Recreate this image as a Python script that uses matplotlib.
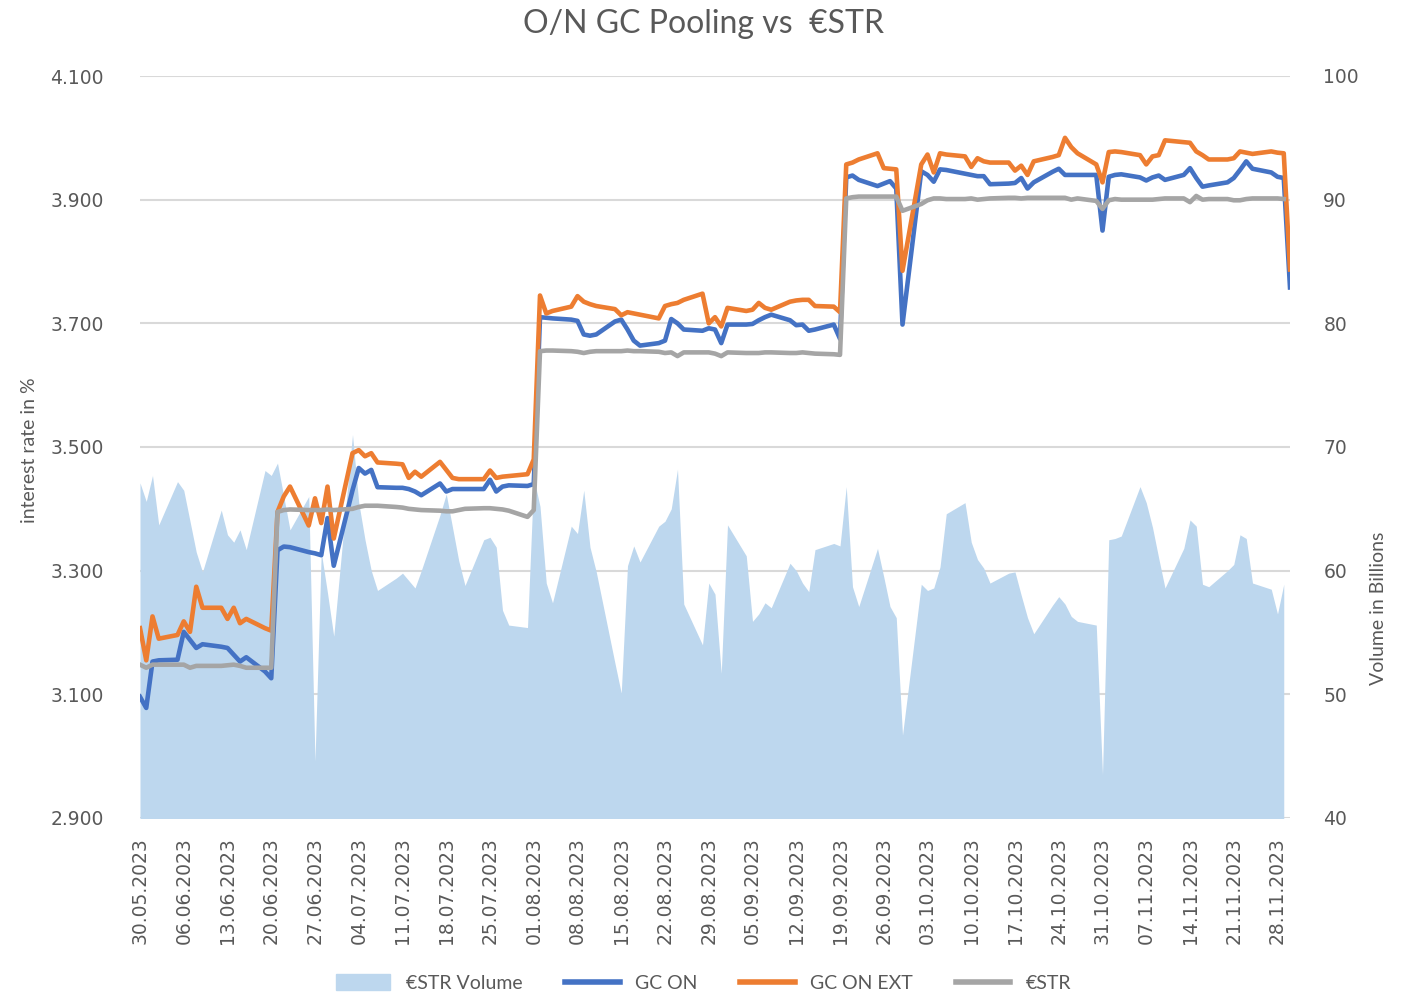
import matplotlib
matplotlib.use("Agg")
import matplotlib.pyplot as plt
import matplotlib.dates as mdates
import matplotlib.ticker as mticker
from matplotlib.patches import Patch
from matplotlib.lines import Line2D
import numpy as np
import pandas as pd

# business days 30.05.2023 - 30.11.2023
dates = pd.bdate_range("2023-05-30", "2023-11-30")

# GC ON (%)
gc_on = [3.096, 3.078,
         3.153, 3.155, 3.156, 3.201, 3.188, 3.175, 3.181, 3.177, 3.175, 3.164, 3.153, 3.160, 3.137, 3.126,
         3.333, 3.339, 3.338, 3.330, 3.328, 3.325, 3.385, 3.308,
         3.430, 3.466, 3.457, 3.463, 3.435, 3.434, 3.434, 3.432, 3.428, 3.422, 3.441, 3.428, 3.432, 3.432,
         3.432, 3.432, 3.447, 3.428, 3.436, 3.438, 3.437,
         3.440, 3.710, 3.709, 3.708, 3.706, 3.704, 3.682, 3.680, 3.682, 3.703, 3.706, 3.690, 3.672, 3.664,
         3.668, 3.672, 3.707, 3.700, 3.690, 3.688, 3.692, 3.690, 3.668,
         3.698, 3.698, 3.699, 3.705, 3.710, 3.714, 3.705, 3.697, 3.698, 3.688, 3.690, 3.698, 3.675,
         3.936, 3.939, 3.932, 3.922, 3.926, 3.930, 3.918, 3.698,
         3.946, 3.940, 3.929, 3.949, 3.948, 3.942, 3.940, 3.938, 3.938, 3.925, 3.926, 3.927, 3.935, 3.918,
         3.928, 3.945, 3.950, 3.940, 3.940, 3.940, 3.940, 3.850,
         3.937, 3.940, 3.941, 3.936, 3.931, 3.936, 3.939, 3.932, 3.940, 3.951, 3.935, 3.921, 3.923, 3.928,
         3.935, 3.948, 3.962, 3.950, 3.944, 3.937, 3.935, 3.758]

# GC ON EXT (%)
gc_on_ext = [3.207, 3.155,
             3.226, 3.190, 3.196, 3.218, 3.201, 3.274, 3.240, 3.240, 3.222, 3.240, 3.215, 3.222, 3.207, 3.203,
             3.395, 3.420, 3.436, 3.373, 3.417, 3.377, 3.436, 3.352,
             3.490, 3.495, 3.485, 3.490, 3.475, 3.473, 3.472, 3.450, 3.460, 3.452, 3.476, 3.463, 3.450, 3.448,
             3.448, 3.448, 3.462, 3.450, 3.452, 3.453, 3.456,
             3.480, 3.745, 3.716, 3.720, 3.727, 3.744, 3.735, 3.731, 3.728, 3.723, 3.713, 3.718, 3.716, 3.714,
             3.708, 3.728, 3.731, 3.733, 3.738, 3.748, 3.700, 3.710, 3.695,
             3.725, 3.720, 3.722, 3.733, 3.725, 3.722, 3.735, 3.737, 3.738, 3.738, 3.728, 3.727, 3.718,
             3.957, 3.960, 3.965, 3.975, 3.951, 3.950, 3.949, 3.785,
             3.957, 3.973, 3.944, 3.975, 3.973, 3.970, 3.953, 3.967, 3.962, 3.960, 3.960, 3.947, 3.955, 3.940,
             3.962, 3.969, 3.972, 4.000, 3.985, 3.975, 3.957, 3.928,
             3.977, 3.978, 3.977, 3.972, 3.957, 3.970, 3.972, 3.996, 3.993, 3.992, 3.978, 3.972, 3.965, 3.965,
             3.967, 3.978, 3.976, 3.974, 3.978, 3.976, 3.975, 3.787]

# €STR (%), last day not yet published
estr = [3.148, 3.143,
        3.148, 3.148, 3.148, 3.148, 3.143, 3.146, 3.146, 3.146, 3.147, 3.148, 3.146, 3.143, 3.143, 3.143,
        3.395, 3.398, 3.399, 3.398, 3.398, 3.398, 3.399, 3.398,
        3.400, 3.403, 3.405, 3.405, 3.405, 3.403, 3.402, 3.400, 3.399, 3.398, 3.397, 3.396, 3.396, 3.398,
        3.400, 3.401, 3.401, 3.400, 3.399, 3.397, 3.387,
        3.398, 3.655, 3.656, 3.656, 3.655, 3.654, 3.652, 3.654, 3.655, 3.655, 3.655, 3.656, 3.655, 3.655,
        3.654, 3.652, 3.653, 3.647, 3.653, 3.653, 3.653, 3.651, 3.647,
        3.653, 3.652, 3.652, 3.652, 3.653, 3.653, 3.652, 3.652, 3.653, 3.652, 3.651, 3.650, 3.649,
        3.902, 3.904, 3.905, 3.905, 3.905, 3.905, 3.905, 3.882,
        3.893, 3.899, 3.902, 3.902, 3.901, 3.901, 3.902, 3.900, 3.901, 3.902, 3.903, 3.903, 3.902, 3.903,
        3.903, 3.903, 3.903, 3.903, 3.900, 3.902, 3.898, 3.885,
        3.899, 3.901, 3.900, 3.900, 3.900, 3.900, 3.901, 3.902, 3.902, 3.896, 3.906, 3.900, 3.901, 3.901,
        3.899, 3.899, 3.901, 3.902, 3.902, 3.902, 3.901]

# €STR volume (bn), last day not yet published
estr_volume = [67.1, 65.6,
               67.7, 63.7, 67.2, 66.5, 64.0, 61.5, 59.9, 64.9, 62.9, 62.3, 63.3, 61.7, 68.1, 67.7,
               68.7, 66.0, 63.3, 66.0, 44.6, 61.5, 58.2, 54.7,
               71.0, 65.5, 62.5, 60.0, 58.4, 59.4, 59.8, 59.2, 58.6, 60.0, 64.5, 66.2, 63.5, 60.8,
               58.8, 62.5, 62.7, 61.9, 56.8, 55.6, 55.4,
               67.5, 65.2, 59.0, 57.4, 63.6, 63.0, 66.5, 61.9, 59.9, 52.5, 50.1, 60.4, 62.0, 60.7,
               63.6, 64.0, 65.0, 68.2, 57.3, 54.0, 59.0, 58.1, 51.7,
               63.7, 61.2, 55.9, 56.5, 57.4, 57.0, 60.6, 60.0, 59.0, 58.3, 61.7, 62.2, 62.0,
               66.8, 58.7, 57.1, 61.8, 59.5, 57.1, 56.2, 46.7,
               58.9, 58.4, 58.6, 60.3, 64.6, 65.5, 62.3, 60.9, 60.2, 59.0, 59.8, 59.9, 58.0, 56.2,
               54.9, 57.2, 57.9, 57.3, 56.3, 55.9, 55.6, 43.5,
               62.5, 62.6, 62.8, 66.8, 65.5, 63.5, 61.0, 58.6, 61.8, 64.1, 63.6, 58.9, 58.7, 60.0,
               60.5, 62.9, 62.6, 59.0, 58.5, 56.5, 58.9]

tick_dates = pd.date_range("2023-05-30", "2023-11-28", freq="7D")

text_col = "#595959"
title_font = "Lato"

fig = plt.figure(figsize=(14.07, 9.94), dpi=100)
ax = fig.add_axes([140 / 1407, 1 - 818 / 994, 1150 / 1407, 742 / 994])
ax2 = ax.twinx()

# area on the secondary axis, kept behind the rate lines
ax.set_zorder(ax2.get_zorder() + 1)
ax.patch.set_visible(False)
ax2.fill_between(dates[:len(estr_volume)], estr_volume, 0, color="#BDD7EE", lw=0)
ax2.set_ylim(40, 100)
ax2.set_yticks(np.arange(40, 101, 10))
ax2.grid(axis="y", color="#D9D9D9", lw=1.5)
ax2.set_axisbelow(True)

ax.plot(dates, gc_on, color="#4472C4", lw=3.3)
ax.plot(dates, gc_on_ext, color="#ED7D31", lw=3.3)
ax.plot(dates[:len(estr)], estr, color="#A5A5A5", lw=3.3)
ax.set_ylim(2.9, 4.1)
ax.set_yticks(np.arange(2.9, 4.11, 0.2))
ax.yaxis.set_major_formatter(mticker.FormatStrFormatter("%.3f"))

ax.set_xlim(pd.Timestamp("2023-05-30"), pd.Timestamp("2023-11-30"))
ax.set_xticks(tick_dates)
ax.xaxis.set_major_formatter(mdates.DateFormatter("%d.%m.%Y"))

for a in (ax, ax2):
    for s in a.spines.values():
        s.set_visible(False)
    a.tick_params(length=0, colors=text_col, labelsize=13.5)
ax.tick_params(axis="y", pad=26)
ax2.tick_params(axis="y", pad=24)
ax.tick_params(axis="x", pad=14, labelrotation=90)

fig.text(0.5, 1 - 24 / 994, "O/N GC Pooling vs  €STR", ha="center", va="center",
         fontsize=23, color=text_col, family=title_font)
fig.text(30 / 1407, 1 - 450 / 994, "interest rate in %", rotation=90, ha="center", va="center",
         fontsize=14, color=text_col, family=title_font)
fig.text(1378 / 1407, 1 - 608 / 994, "Volume in Billions", rotation=90, ha="center", va="center",
         fontsize=14, color=text_col, family=title_font)

handles = [Patch(color="#BDD7EE", label="€STR Volume"),
           Line2D([], [], color="#4472C4", lw=4, label="GC ON"),
           Line2D([], [], color="#ED7D31", lw=4, label="GC ON EXT"),
           Line2D([], [], color="#A5A5A5", lw=4, label="€STR")]
fig.legend(handles=handles, loc="center", bbox_to_anchor=(0.5, 1 - 983 / 994), ncol=4,
           frameon=False, handlelength=2.8, handleheight=0.9, columnspacing=2.2,
           prop={"family": title_font, "size": 14}, labelcolor=text_col)

fig.savefig("out.png", dpi=100)
